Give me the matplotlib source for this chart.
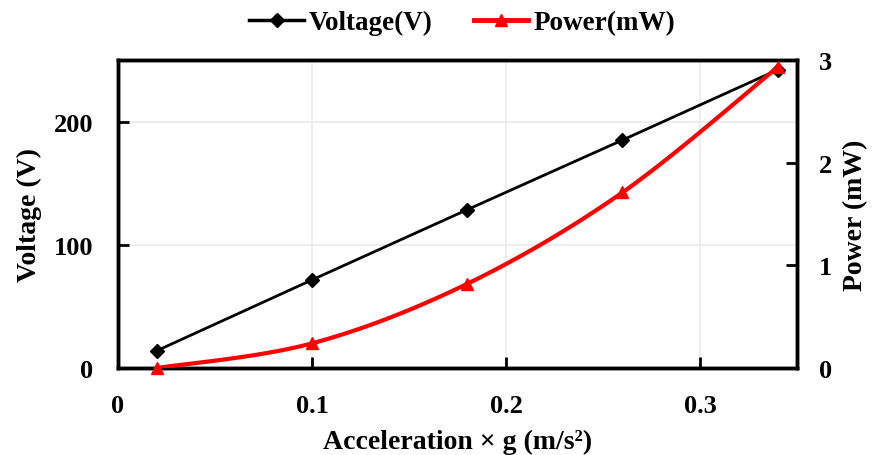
import numpy as np
import matplotlib
matplotlib.use("Agg")
import matplotlib.pyplot as plt
from matplotlib.lines import Line2D

plt.rcParams['font.family'] = ['Liberation Serif', 'DejaVu Serif']
plt.rcParams['font.weight'] = 'bold'

# data
accel = [0.02, 0.10, 0.18, 0.26, 0.34]
voltage = [14, 71.5, 128.5, 185, 242]
power = [0.0, 0.24, 0.82, 1.71, 2.93]


def smooth(x, y, n=30):
    # Catmull-Rom style smoothing like Excel's "smoothed line"
    x = np.asarray(x, float)
    y = np.asarray(y, float)
    px = np.concatenate([[x[0]], x, [x[-1]]])
    py = np.concatenate([[y[0]], y, [y[-1]]])
    xs, ys = [], []
    t = np.linspace(0, 1, n)
    for i in range(1, len(px) - 2):
        p0 = np.array([px[i], py[i]])
        p3 = np.array([px[i + 1], py[i + 1]])
        c1 = p0 + (p3 - np.array([px[i - 1], py[i - 1]])) / 6
        c2 = p3 - (np.array([px[i + 2], py[i + 2]]) - p0) / 6
        b = ((1 - t) ** 3)[:, None] * p0 + (3 * (1 - t) ** 2 * t)[:, None] * c1 \
            + (3 * (1 - t) * t ** 2)[:, None] * c2 + (t ** 3)[:, None] * p3
        xs.extend(b[:, 0])
        ys.extend(b[:, 1])
    return np.array(xs), np.array(ys)


fig = plt.figure(figsize=(8.72, 4.56), dpi=100)
ax = fig.add_axes([0.1353, 0.1908, 0.7787, 0.6754])
ax2 = ax.twinx()

ax.plot(accel, voltage, color='black', lw=2, marker='D', ms=7, zorder=3)
sx, sy = smooth(accel, power)
ax2.plot(sx, sy, color='red', lw=3, zorder=3)
ax2.plot(accel, power, color='red', lw=0, marker='^', ms=9, zorder=4, clip_on=False)

ax.set_xlim(0, 0.35)
ax.set_ylim(0, 250)
ax2.set_ylim(0, 3)
ax.set_xticks([0, 0.1, 0.2, 0.3])
ax.set_xticklabels(['0', '0.1', '0.2', '0.3'])
ax.set_yticks([0, 100, 200])
ax2.set_yticks([0, 1, 2, 3])

ax.grid(True, color='#ebebeb', lw=1.2)
ax.set_axisbelow(True)

for a in (ax, ax2):
    for s in a.spines.values():
        s.set_linewidth(2.5)
    a.tick_params(direction='in', length=8, width=2, labelsize=19)
ax.tick_params(axis='y', pad=18)
ax.tick_params(axis='x', pad=19)
ax2.tick_params(pad=16)

ax.set_xlabel('Acceleration × g (m/s²)', fontsize=20, fontweight='bold', labelpad=8)
ax.set_ylabel('Voltage (V)', fontsize=20, fontweight='bold', labelpad=8)
ax2.set_ylabel('Power (mW)', fontsize=20, fontweight='bold', labelpad=8)

handles = [
    Line2D([], [], color='black', lw=2.5, marker='D', ms=7),
    Line2D([], [], color='red', lw=3.5, marker='^', ms=9),
]
fig.legend(handles, ['Voltage(V)', 'Power(mW)'], loc='center', bbox_to_anchor=(0.53, 0.948),
           ncol=2, frameon=False, fontsize=19.5, handlelength=2.0, columnspacing=1.5,
           handletextpad=0.2)

fig.savefig('out.png', dpi=100)
